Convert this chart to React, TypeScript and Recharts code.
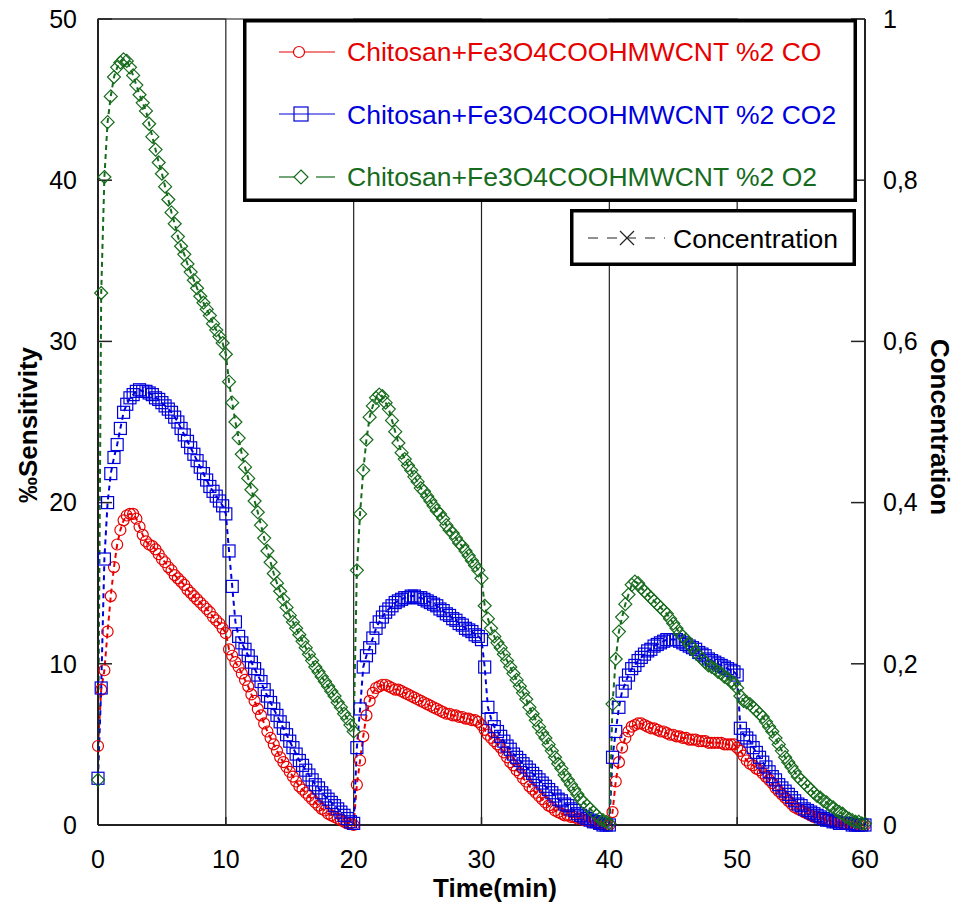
import React from 'react';
import { LineChart, Line, XAxis, YAxis, ReferenceLine } from 'recharts';

// sensor read every 15 s (0.25 min), 0..60 min
const TIME_STEP = 0.25;

const CO = [
  4.9, 8.4, 9.6, 12.0, 14.2, 16.0, 17.4, 18.3, 18.9, 19.2,
  19.3, 19.3, 19.0, 18.5, 18.0, 17.6, 17.4, 17.3, 17.1, 16.8,
  16.5, 16.3, 16.0, 15.8, 15.5, 15.3, 15.1, 14.9, 14.6, 14.4,
  14.2, 14.0, 13.8, 13.6, 13.4, 13.2, 12.9, 12.7, 12.5, 12.2,
  11.9,
  10.9, 10.5, 10.1, 9.8, 9.4, 9.0, 8.6, 8.1, 7.7, 7.2,
  6.8, 6.3, 5.8, 5.4, 5.0, 4.6, 4.2, 3.9, 3.6, 3.3,
  3.0, 2.7, 2.4, 2.2, 2.0, 1.8, 1.6, 1.4, 1.2, 1.0,
  0.9, 0.7, 0.6, 0.5, 0.4, 0.3, 0.2, 0.1, 0.1, 0.0,
  2.5, 4.0, 5.5, 6.8, 7.7, 8.2, 8.5, 8.6, 8.7, 8.7,
  8.6, 8.5, 8.4, 8.4, 8.3, 8.2, 8.1, 8.0, 7.9, 7.8,
  7.7, 7.6, 7.5, 7.4, 7.3, 7.2, 7.1, 7.0, 6.9, 6.9,
  6.8, 6.8, 6.7, 6.7, 6.6, 6.6, 6.5, 6.5, 6.4, 6.2,
  5.9, 5.6, 5.4, 5.2, 5.0, 4.8, 4.5, 4.2, 3.9, 3.7,
  3.4, 3.2, 2.9, 2.7, 2.4, 2.2, 2.0, 1.8, 1.6, 1.4,
  1.2, 1.1, 0.9, 0.8, 0.7, 0.6, 0.6, 0.5, 0.5, 0.4,
  0.4, 0.3, 0.3, 0.2, 0.2, 0.1, 0.1, 0.1, 0.0, 0.0,
  0.8, 2.7, 3.9, 4.8, 5.4, 5.8, 6.1, 6.2, 6.3, 6.3,
  6.2, 6.1, 6.0, 6.0, 5.9, 5.8, 5.8, 5.7, 5.6, 5.6,
  5.5, 5.5, 5.4, 5.4, 5.3, 5.3, 5.3, 5.2, 5.2, 5.2,
  5.1, 5.1, 5.1, 5.1, 5.1, 5.0, 5.0, 5.0, 5.0, 4.8,
  4.6, 4.3, 4.0, 3.8, 3.7, 3.5, 3.4, 3.2, 3.0, 2.8,
  2.6, 2.3, 2.1, 1.9, 1.7, 1.5, 1.3, 1.1, 1.0, 0.9,
  0.8, 0.7, 0.6, 0.5, 0.5, 0.4, 0.4, 0.3, 0.3, 0.2,
  0.2, 0.2, 0.1, 0.1, 0.1, 0.0, 0.0, 0.0, 0.0, 0.0,
];

const CO2 = [
  2.9, 8.5, 16.5, 20.0, 21.8, 22.8, 23.6, 24.6, 25.6, 26.1,
  26.5, 26.7, 26.9, 27.0, 26.9, 26.9, 26.8, 26.7, 26.5, 26.4,
  26.2, 26.0, 25.8, 25.6, 25.3, 25.0, 24.6, 24.2, 23.8, 23.4,
  23.0, 22.6, 22.2, 21.8, 21.4, 21.0, 20.7, 20.4, 20.1, 19.8,
  19.3,
  17.0, 14.8, 12.6, 11.7, 11.3, 10.9, 10.5, 10.1, 9.7, 9.3,
  8.9, 8.4, 8.0, 7.6, 7.2, 6.8, 6.4, 6.0, 5.6, 5.2,
  4.8, 4.4, 4.0, 3.7, 3.4, 3.1, 2.8, 2.5, 2.3, 2.0,
  1.8, 1.6, 1.4, 1.2, 1.0, 0.8, 0.6, 0.4, 0.2, 0.1,
  4.8, 7.2, 9.8, 10.5, 11.0, 11.6, 12.2, 12.6, 12.9, 13.2,
  13.4, 13.6, 13.8, 13.9, 14.0, 14.1, 14.1, 14.2, 14.2, 14.1,
  14.1, 14.0, 13.9, 13.8, 13.7, 13.6, 13.4, 13.3, 13.1, 13.0,
  12.8, 12.7, 12.5, 12.4, 12.2, 12.1, 12.0, 11.8, 11.7, 11.5,
  9.8, 7.3, 6.6, 6.1, 5.8, 5.5, 5.2, 4.9, 4.7, 4.4,
  4.2, 4.0, 3.8, 3.6, 3.4, 3.2, 3.0, 2.8, 2.6, 2.4,
  2.2, 2.0, 1.8, 1.6, 1.5, 1.3, 1.2, 1.0, 0.9, 0.7,
  0.6, 0.5, 0.4, 0.3, 0.2, 0.2, 0.1, 0.0, 0.0, 0.0,
  4.2, 5.8, 7.3, 8.3, 8.8, 9.3, 9.7, 9.9, 10.2, 10.4,
  10.6, 10.8, 10.9, 11.1, 11.2, 11.3, 11.4, 11.5, 11.5, 11.5,
  11.5, 11.4, 11.3, 11.2, 11.1, 11.0, 10.9, 10.7, 10.6, 10.5,
  10.3, 10.2, 10.1, 10.0, 9.9, 9.8, 9.7, 9.6, 9.5, 9.3,
  6.0, 5.6, 5.4, 5.2, 4.8, 4.5, 4.2, 3.9, 3.6, 3.3,
  3.0, 2.8, 2.5, 2.3, 2.1, 1.9, 1.7, 1.5, 1.3, 1.2,
  1.0, 0.9, 0.8, 0.7, 0.6, 0.5, 0.4, 0.3, 0.3, 0.2,
  0.2, 0.1, 0.1, 0.1, 0.1, 0.0, 0.0, 0.0, 0.0, 0.0,
];

const O2 = [
  2.8, 33.0, 40.2, 43.6, 45.2, 46.4, 47.0, 47.3, 47.5, 47.4,
  47.0, 46.5, 45.9, 45.3, 44.8, 44.3, 43.5, 42.7, 41.9, 41.1,
  40.4, 39.6, 38.8, 38.0, 37.3, 36.5, 35.9, 35.4, 34.8, 34.3,
  33.8, 33.3, 32.8, 32.4, 32.0, 31.6, 31.1, 30.7, 30.3, 29.9,
  29.2,
  27.5, 26.2, 25.0, 24.0, 23.0, 22.2, 21.5, 20.8, 20.1, 19.4,
  18.6, 17.8, 17.0, 16.3, 15.6, 15.0, 14.5, 14.0, 13.5, 13.0,
  12.6, 12.2, 11.8, 11.4, 11.0, 10.6, 10.2, 9.8, 9.5, 9.2,
  8.9, 8.6, 8.3, 8.0, 7.6, 7.3, 6.9, 6.6, 6.2, 5.8,
  15.8, 19.3, 22.0, 23.9, 25.3, 26.0, 26.5, 26.7, 26.6, 26.2,
  25.8, 25.1, 24.4, 23.7, 23.1, 22.7, 22.3, 22.0, 21.6, 21.3,
  20.9, 20.7, 20.4, 20.1, 19.8, 19.5, 19.3, 19.0, 18.6, 18.3,
  18.1, 17.8, 17.5, 17.3, 17.0, 16.7, 16.4, 16.1, 15.8, 15.3,
  13.6, 12.8, 12.2, 11.7, 11.3, 11.0, 10.6, 10.2, 9.8, 9.4,
  9.0, 8.6, 8.2, 7.8, 7.3, 6.9, 6.5, 6.1, 5.7, 5.4,
  5.0, 4.6, 4.2, 3.8, 3.5, 3.1, 2.8, 2.5, 2.2, 1.9,
  1.6, 1.4, 1.2, 1.0, 0.8, 0.6, 0.4, 0.3, 0.2, 0.1,
  7.5, 10.3, 12.0, 12.9, 13.7, 14.3, 14.9, 15.1, 15.0, 14.7,
  14.5, 14.3, 14.1, 13.9, 13.7, 13.5, 13.3, 13.1, 12.8, 12.5,
  12.2, 11.9, 11.7, 11.5, 11.2, 11.0, 10.7, 10.5, 10.3, 10.1,
  9.9, 9.8, 9.7, 9.5, 9.4, 9.2, 9.1, 8.9, 8.8, 8.5,
  8.0, 7.7, 7.6, 7.5, 7.3, 7.1, 6.9, 6.7, 6.4, 6.1,
  5.8, 5.4, 5.0, 4.6, 4.2, 3.9, 3.6, 3.3, 3.0, 2.8,
  2.6, 2.4, 2.2, 2.0, 1.8, 1.7, 1.5, 1.4, 1.2, 1.1,
  0.9, 0.8, 0.7, 0.5, 0.4, 0.3, 0.2, 0.2, 0.1, 0.1,
];

// gas on/off steps (right axis)
const CONC_TIME = [0, 0, 10, 10, 20, 20, 30, 30, 40, 40, 50, 50, 60];
const CONC_VALUE = [0, 1, 1, 0, 0, 1, 1, 0, 0, 1, 1, 0, 0];

const X_TICKS = [0, 10, 20, 30, 40, 50, 60];
const LEFT_TICKS = [0, 10, 20, 30, 40, 50];
const RIGHT_TICKS = [0, 0.2, 0.4, 0.6, 0.8, 1];

const SERIES_NAMES = [
  'Chitosan+Fe3O4COOHMWCNT %2 CO',
  'Chitosan+Fe3O4COOHMWCNT %2 CO2',
  'Chitosan+Fe3O4COOHMWCNT %2 O2',
];

const RED = '#e60000';
const BLUE = '#0000dd';
const GREEN = '#166b1c';
const FONT = '"Liberation Sans", Arial, Helvetica, sans-serif';

const data = CO.map((v, i) => ({ t: i * TIME_STEP, co: v, co2: CO2[i], o2: O2[i] }));
const concData = CONC_TIME.map((t, i) => ({ t, c: CONC_VALUE[i] }));

const CircleDot = (props: any) => {
  const { cx, cy, index } = props;
  if (cx == null || cy == null) return <g key={`co-${index}`} />;
  return <circle key={`co-${index}`} cx={cx} cy={cy} r={5.5} fill="none" stroke={RED} strokeWidth={1.2} />;
};

const SquareDot = (props: any) => {
  const { cx, cy, index } = props;
  if (cx == null || cy == null) return <g key={`co2-${index}`} />;
  return (
    <rect key={`co2-${index}`} x={cx - 6} y={cy - 6} width={12} height={12} fill="none" stroke={BLUE} strokeWidth={1.2} />
  );
};

const DiamondDot = (props: any) => {
  const { cx, cy, index } = props;
  if (cx == null || cy == null) return <g key={`o2-${index}`} />;
  const d = 6.5;
  return (
    <path
      key={`o2-${index}`}
      d={`M${cx},${cy - d}L${cx + d},${cy}L${cx},${cy + d}L${cx - d},${cy}Z`}
      fill="none"
      stroke={GREEN}
      strokeWidth={1.2}
    />
  );
};

const fmtRight = (v: number) => (v === 0 || v === 1 ? String(v) : v.toFixed(1).replace('.', ','));

export default function App() {
  const tick = { fontSize: 25, fill: '#000', fontFamily: FONT };
  return (
    <div style={{ position: 'absolute', left: 0, top: 0, width: 960, height: 905, background: '#fff' }}>
      <LineChart width={960} height={905} data={data} margin={{ top: 19, right: 0, bottom: 0, left: 0 }}>
        <XAxis
          type="number"
          dataKey="t"
          domain={[0, 60]}
          ticks={X_TICKS}
          interval={0}
          height={80}
          tickSize={-8}
          tickMargin={33}
          tick={tick}
          axisLine={{ stroke: '#222', strokeWidth: 2 }}
          tickLine={{ stroke: '#222', strokeWidth: 1.5 }}
        />
        <YAxis
          yAxisId="left"
          domain={[0, 50]}
          ticks={LEFT_TICKS}
          interval={0}
          width={98}
          tickSize={-14}
          tickMargin={35}
          tick={tick}
          axisLine={{ stroke: '#222', strokeWidth: 2 }}
          tickLine={{ stroke: '#222', strokeWidth: 1.5 }}
        />
        <YAxis
          yAxisId="right"
          orientation="right"
          domain={[0, 1]}
          ticks={RIGHT_TICKS}
          interval={0}
          width={95}
          tickSize={-14}
          tickMargin={32}
          tickFormatter={fmtRight}
          tick={{ ...tick, textAnchor: 'start' }}
          axisLine={{ stroke: '#222', strokeWidth: 2 }}
          tickLine={{ stroke: '#222', strokeWidth: 1.5 }}
        />
        <ReferenceLine yAxisId="left" y={50} stroke="#888" strokeWidth={2} />
        <Line
          yAxisId="right"
          data={concData}
          dataKey="c"
          type="linear"
          stroke="#222"
          strokeWidth={1.2}
          dot={false}
          activeDot={false}
          isAnimationActive={false}
        />
        <Line
          yAxisId="left"
          dataKey="co"
          name={SERIES_NAMES[0]}
          type="linear"
          stroke={RED}
          strokeWidth={2}
          strokeDasharray="5 4"
          dot={CircleDot}
          activeDot={false}
          isAnimationActive={false}
        />
        <Line
          yAxisId="left"
          dataKey="co2"
          name={SERIES_NAMES[1]}
          type="linear"
          stroke={BLUE}
          strokeWidth={2}
          strokeDasharray="5 4"
          dot={SquareDot}
          activeDot={false}
          isAnimationActive={false}
        />
        <Line
          yAxisId="left"
          dataKey="o2"
          name={SERIES_NAMES[2]}
          type="linear"
          stroke={GREEN}
          strokeWidth={2}
          strokeDasharray="5 4"
          dot={DiamondDot}
          activeDot={false}
          isAnimationActive={false}
        />
      </LineChart>

      {/* legends + axis titles */}
      <svg
        width={960}
        height={905}
        style={{ position: 'absolute', left: 0, top: 0, pointerEvents: 'none' }}
        fontFamily={FONT}
      >
        <rect x={244.75} y={20.75} width={610.5} height={179.5} fill="#fff" stroke="#000" strokeWidth={3.5} />
        {/* CO */}
        <line x1={279} y1={52} x2={335} y2={52} stroke={RED} strokeWidth={1.2} />
        <circle cx={299} cy={52} r={5.5} fill="#fff" stroke={RED} strokeWidth={1.2} />
        <text x={347} y={61} fontSize={26.5} fill={RED}>{SERIES_NAMES[0]}</text>
        {/* CO2 */}
        <line x1={279} y1={114} x2={335} y2={114} stroke={BLUE} strokeWidth={1.2} />
        <rect x={294} y={107} width={14} height={14} fill="none" stroke={BLUE} strokeWidth={1.2} />
        <text x={347} y={123.5} fontSize={26.5} fill={BLUE}>{SERIES_NAMES[1]}</text>
        {/* O2 */}
        <line x1={279} y1={177} x2={295} y2={177} stroke={GREEN} strokeWidth={1.2} />
        <line x1={316} y1={177} x2={335} y2={177} stroke={GREEN} strokeWidth={1.2} />
        <path d="M301,170L308,177L301,184L294,177Z" fill="#fff" stroke={GREEN} strokeWidth={1.2} />
        <text x={347} y={186} fontSize={26.5} fill={GREEN}>{SERIES_NAMES[2]}</text>

        <rect x={571.75} y={210.75} width={282.5} height={53.5} fill="#fff" stroke="#000" strokeWidth={3.5} />
        <line x1={588} y1={238} x2={665} y2={238} stroke="#222" strokeWidth={1.2} strokeDasharray="10 9" />
        <path d="M620,231L634,245M634,231L620,245" stroke="#222" strokeWidth={1.2} />
        <text x={673} y={247.5} fontSize={26.5} fill="#000">Concentration</text>

        <text x={495} y={897} fontSize={26} fontWeight="bold" textAnchor="middle" fill="#000">
          Time(min)
        </text>
        <text
          x={28}
          y={425}
          fontSize={26}
          fontWeight="bold"
          textAnchor="middle"
          dominantBaseline="central"
          transform="rotate(-90 28 425)"
          fill="#000"
        >
          ‰Sensitivity
        </text>
        <text
          x={940}
          y={427}
          fontSize={26}
          fontWeight="bold"
          textAnchor="middle"
          dominantBaseline="central"
          transform="rotate(90 940 427)"
          fill="#000"
        >
          Concentration
        </text>
      </svg>
    </div>
  );
}
